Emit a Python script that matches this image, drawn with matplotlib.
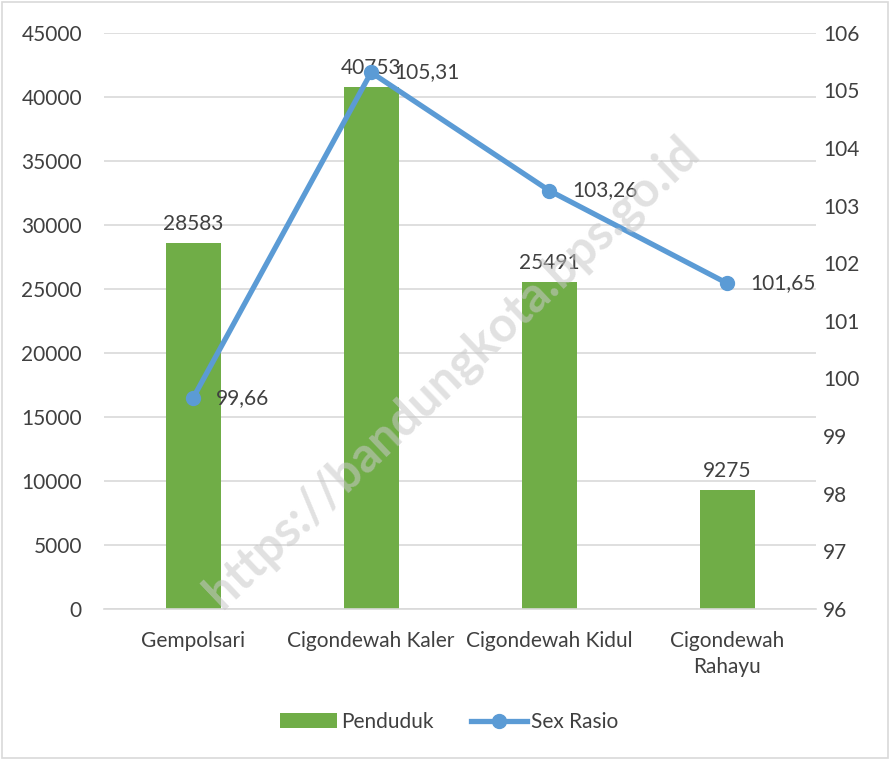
import matplotlib.pyplot as plt
import numpy as np

plt.rcParams['font.family'] = ['Lato', 'DejaVu Sans']

# Data
kelurahan = ["Gempolsari", "Cigondewah Kaler", "Cigondewah Kidul", "Cigondewah\nRahayu"]
penduduk = [28583, 40753, 25491, 9275]
sex_rasio = [99.66, 105.31, 103.26, 101.65]

green = "#70AD47"
blue = "#5B9BD5"
txt = "#404040"
fs = 15

fig = plt.figure(figsize=(8.9, 7.6), dpi=100)
ax = fig.add_axes([0.117, 0.199, 0.800, 0.758])
ax2 = ax.twinx()

x = np.arange(len(kelurahan))
bars = ax.bar(x, penduduk, width=0.31, color=green, label="Penduduk", zorder=2)
ax.set_ylim(0, 45000)
ax.set_yticks(np.arange(0, 45001, 5000))
ax.set_xlim(-0.5, len(kelurahan) - 0.5)
ax.grid(axis='y', color='#d9d9d9', linewidth=1.2, zorder=0)
ax.set_axisbelow(True)
for v, xi in zip(penduduk, x):
    ax.text(xi, v + 700, str(v), ha='center', va='bottom', fontsize=fs, color=txt, zorder=5)

line, = ax2.plot(x, sex_rasio, color=blue, linewidth=3.8, marker='o', markersize=10,
                 label="Sex Rasio", zorder=4)
ax2.set_ylim(96, 106)
ax2.set_yticks(np.arange(96, 106.1, 1))
for v, xi in zip(sex_rasio, x):
    ax2.text(xi + 0.13, v, f"{v:.2f}".replace('.', ','), ha='left', va='center',
             fontsize=fs, color=txt, zorder=5)

for a in (ax, ax2):
    for s in a.spines.values():
        s.set_visible(False)
    a.tick_params(length=0, labelsize=fs, labelcolor=txt)
ax.spines['bottom'].set_visible(True)
ax.spines['bottom'].set_color('#d9d9d9')
ax.spines['bottom'].set_linewidth(1.2)
ax.set_xticks(x)
ax.set_xticklabels(kelurahan, fontsize=fs, color=txt, linespacing=1.4)
ax.tick_params(axis='x', pad=16)
ax.tick_params(axis='y', pad=16)
ax2.tick_params(axis='y', pad=5)

# watermark
fig.text(0.508, 0.51, "https://bandungkota.bps.go.id", rotation=43.5, fontsize=35,
         fontweight='bold', color='#c8c8c8', alpha=0.55, ha='center', va='center', zorder=10)

fig.legend(handles=[bars, line], loc='center', bbox_to_anchor=(0.505, 0.05), ncol=2,
           frameon=False, fontsize=fs, labelcolor=txt, handlelength=2.7, columnspacing=1.8,
           handletextpad=0.2)

fig.patches.append(plt.Rectangle((0.002, 0.002), 0.996, 0.996, transform=fig.transFigure,
                                 fill=False, edgecolor='#d9d9d9', linewidth=1.2))

fig.savefig("out.png", dpi=100)
